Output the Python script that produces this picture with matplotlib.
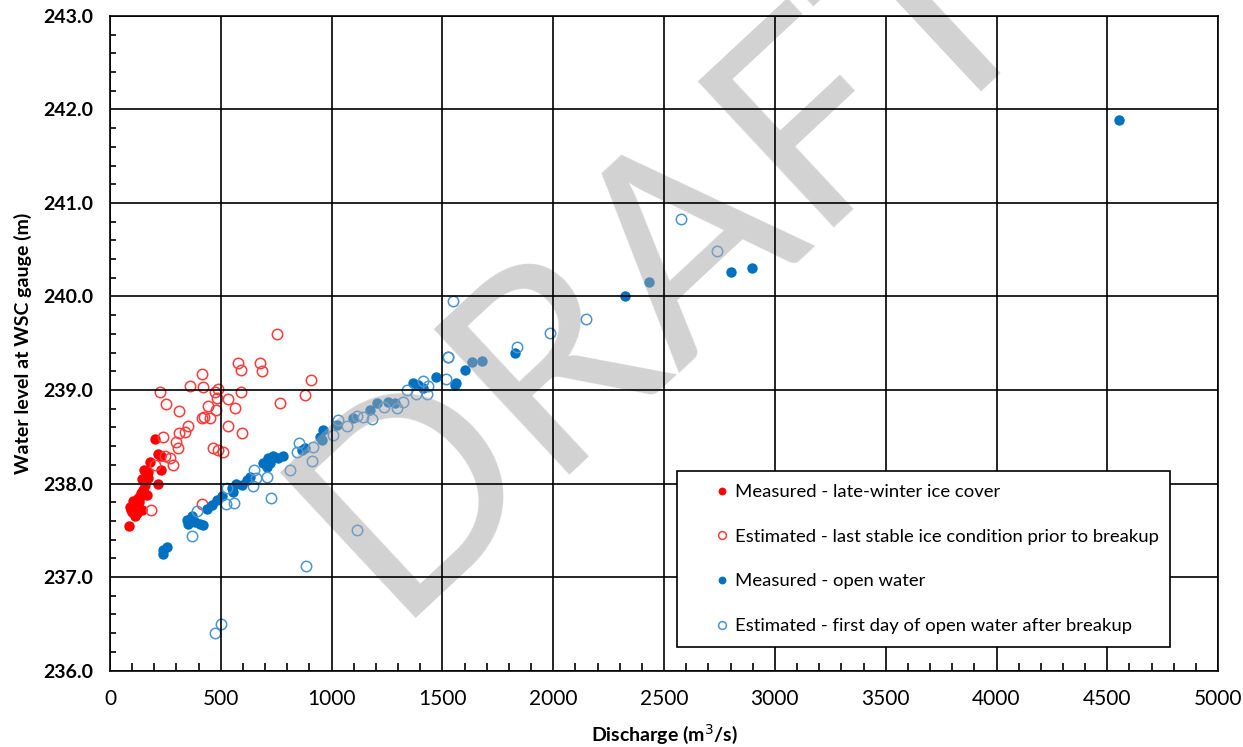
import numpy as np
import matplotlib
matplotlib.use('Agg')
import matplotlib.pyplot as plt
from matplotlib.ticker import MultipleLocator, FormatStrFormatter

# Measured - late-winter ice cover
red_meas_q = [86, 90, 95, 100, 105, 110, 115, 120, 125, 130, 135, 140, 143, 145,
              150, 155, 160, 165, 170, 173, 180, 203, 218, 218, 230, 230]
red_meas_h = [237.55, 237.75, 237.72, 237.70, 237.81, 237.78, 237.65, 237.68, 237.85, 237.80,
              237.86, 237.90, 237.72, 238.05, 237.93, 238.14, 237.98, 237.88, 238.12, 238.06,
              238.23, 238.48, 238.32, 238.00, 238.29, 238.14]

# Estimated - last stable ice condition prior to breakup
red_est_q = [752, 579, 590, 677, 687, 415, 907, 227, 361, 421, 474, 489, 481, 590, 880,
             251, 534, 564, 767, 313, 444, 478, 414, 451, 424, 531, 594, 353, 338, 311,
             241, 298, 308, 466, 489, 511, 248, 271, 286, 203, 184, 414]
red_est_h = [239.60, 239.29, 239.21, 239.29, 239.20, 239.17, 239.11, 238.98, 239.04, 239.03,
             238.98, 239.01, 238.91, 238.98, 238.95, 238.85, 238.90, 238.81, 238.86, 238.78,
             238.83, 238.79, 238.70, 238.70, 238.71, 238.61, 238.54, 238.61, 238.55, 238.54,
             238.50, 238.44, 238.38, 238.38, 238.36, 238.34, 238.29, 238.27, 238.20, 238.20,
             237.72, 237.78]

# Measured - open water
blue_meas_q = [238, 241, 256, 346, 353, 369, 384, 406, 421, 436, 459, 481, 504, 549, 557,
               569, 594, 617, 632, 692, 707, 714, 722, 737, 760, 782, 865, 880, 948, 955,
               963, 1023, 1098, 1173, 1203, 1256, 1286, 1369, 1391, 1414, 1470, 1557, 1561,
               1602, 1632, 1677, 1828, 2324, 2433, 2802, 2897, 4553]
blue_meas_h = [237.25, 237.29, 237.32, 237.61, 237.57, 237.65, 237.59, 237.57, 237.56, 237.73,
               237.77, 237.82, 237.87, 237.95, 237.91, 238.00, 237.98, 238.04, 238.07, 238.22,
               238.18, 238.27, 238.22, 238.29, 238.27, 238.29, 238.36, 238.38, 238.50, 238.47,
               238.57, 238.63, 238.70, 238.79, 238.86, 238.87, 238.86, 239.07, 239.05, 239.02,
               239.14, 239.05, 239.08, 239.21, 239.30, 239.31, 239.40, 240.01, 240.16, 240.26,
               240.30, 241.89]

# Estimated - first day of open water after breakup
blue_est_q = [474, 501, 883, 1113, 725, 371, 391, 561, 523, 526, 651, 659, 644, 710, 812,
              842, 854, 915, 913, 1005, 1030, 1071, 1113, 1143, 1181, 1238, 1294, 1324,
              1339, 1379, 1429, 1411, 1436, 1516, 1524, 1527, 1546, 1838, 1986, 2147, 2577,
              2739]
blue_est_h = [236.40, 236.50, 237.12, 237.50, 237.85, 237.44, 237.71, 237.79, 237.78, 237.95,
              238.14, 238.06, 237.97, 238.07, 238.14, 238.34, 238.43, 238.39, 238.24, 238.52,
              238.68, 238.61, 238.72, 238.71, 238.69, 238.82, 238.81, 238.87, 239.00, 238.96,
              238.96, 239.10, 239.04, 239.12, 239.35, 239.35, 239.95, 239.46, 239.61, 239.76,
              240.83, 240.49]

plt.rcParams['font.family'] = 'Lato'

fig = plt.figure(figsize=(12.43, 7.47), dpi=100)
ax = fig.add_axes([0.0885, 0.1024, 0.8915, 0.8762])

red = '#ff0000'
blue = '#0070c0'
ms = 7.5

ax.plot(red_meas_q, red_meas_h, 'o', color=red, ms=ms, mew=0, zorder=1.5,
        label='Measured - late-winter ice cover')
ax.plot(red_est_q, red_est_h, 'o', mfc='none', mec='#ff3b3b', ms=ms, mew=1.1, zorder=1.5,
        label='Estimated - last stable ice condition prior to breakup')
ax.plot(blue_meas_q, blue_meas_h, 'o', color=blue, ms=ms, mew=0, zorder=1.5,
        label='Measured - open water')
ax.plot(blue_est_q, blue_est_h, 'o', mfc='none', mec='#4a94d6', ms=ms, mew=1.1, zorder=1.5,
        label='Estimated - first day of open water after breakup')

# watermark
ax.text(2500, 240.44, 'DRAFT', fontsize=200, color='#a6a6a6', alpha=0.5,
        rotation=43, rotation_mode='anchor', ha='center', va='center', zorder=2)

ax.set_xlim(0, 5000)
ax.set_ylim(236, 243)
ax.xaxis.set_major_locator(MultipleLocator(500))
ax.xaxis.set_minor_locator(MultipleLocator(100))
ax.yaxis.set_major_locator(MultipleLocator(1))
ax.yaxis.set_minor_locator(MultipleLocator(0.2))
ax.yaxis.set_major_formatter(FormatStrFormatter('%.1f'))

ax.set_axisbelow(False)
ax.grid(True, which='major', color='black', lw=1.2)
ax.tick_params(which='major', length=0, labelsize=14)
ax.tick_params(axis='x', which='major', labelsize=15, pad=13)
ax.tick_params(axis='y', which='major', pad=12)
ax.tick_params(axis='x', which='minor', direction='in', length=6, width=1.2, top=False)
ax.tick_params(axis='y', which='minor', direction='in', length=4, width=1.2, right=False)
for lbl in ax.get_yticklabels():
    lbl.set_fontweight('bold')
for sp in ax.spines.values():
    sp.set_linewidth(1.2)

ax.set_xlabel('Discharge (m$^3$/s)', fontsize=14, fontweight='bold', labelpad=10)
ax.set_ylabel('Water level at WSC gauge (m)', fontsize=14, fontweight='bold', labelpad=8)

leg = ax.legend(loc='lower left', bbox_to_anchor=(0.512, 0.036, 0.445, 0.278), mode='expand',
                fontsize=13.3, frameon=True, fancybox=False, edgecolor='black',
                framealpha=1, markerscale=0.75, handlelength=3.46, handletextpad=-1.02,
                labelspacing=1.55, borderpad=0.7, borderaxespad=0)
leg.get_frame().set_linewidth(1.2)
leg.set_zorder(5)

fig.savefig('out.png', dpi=100)
